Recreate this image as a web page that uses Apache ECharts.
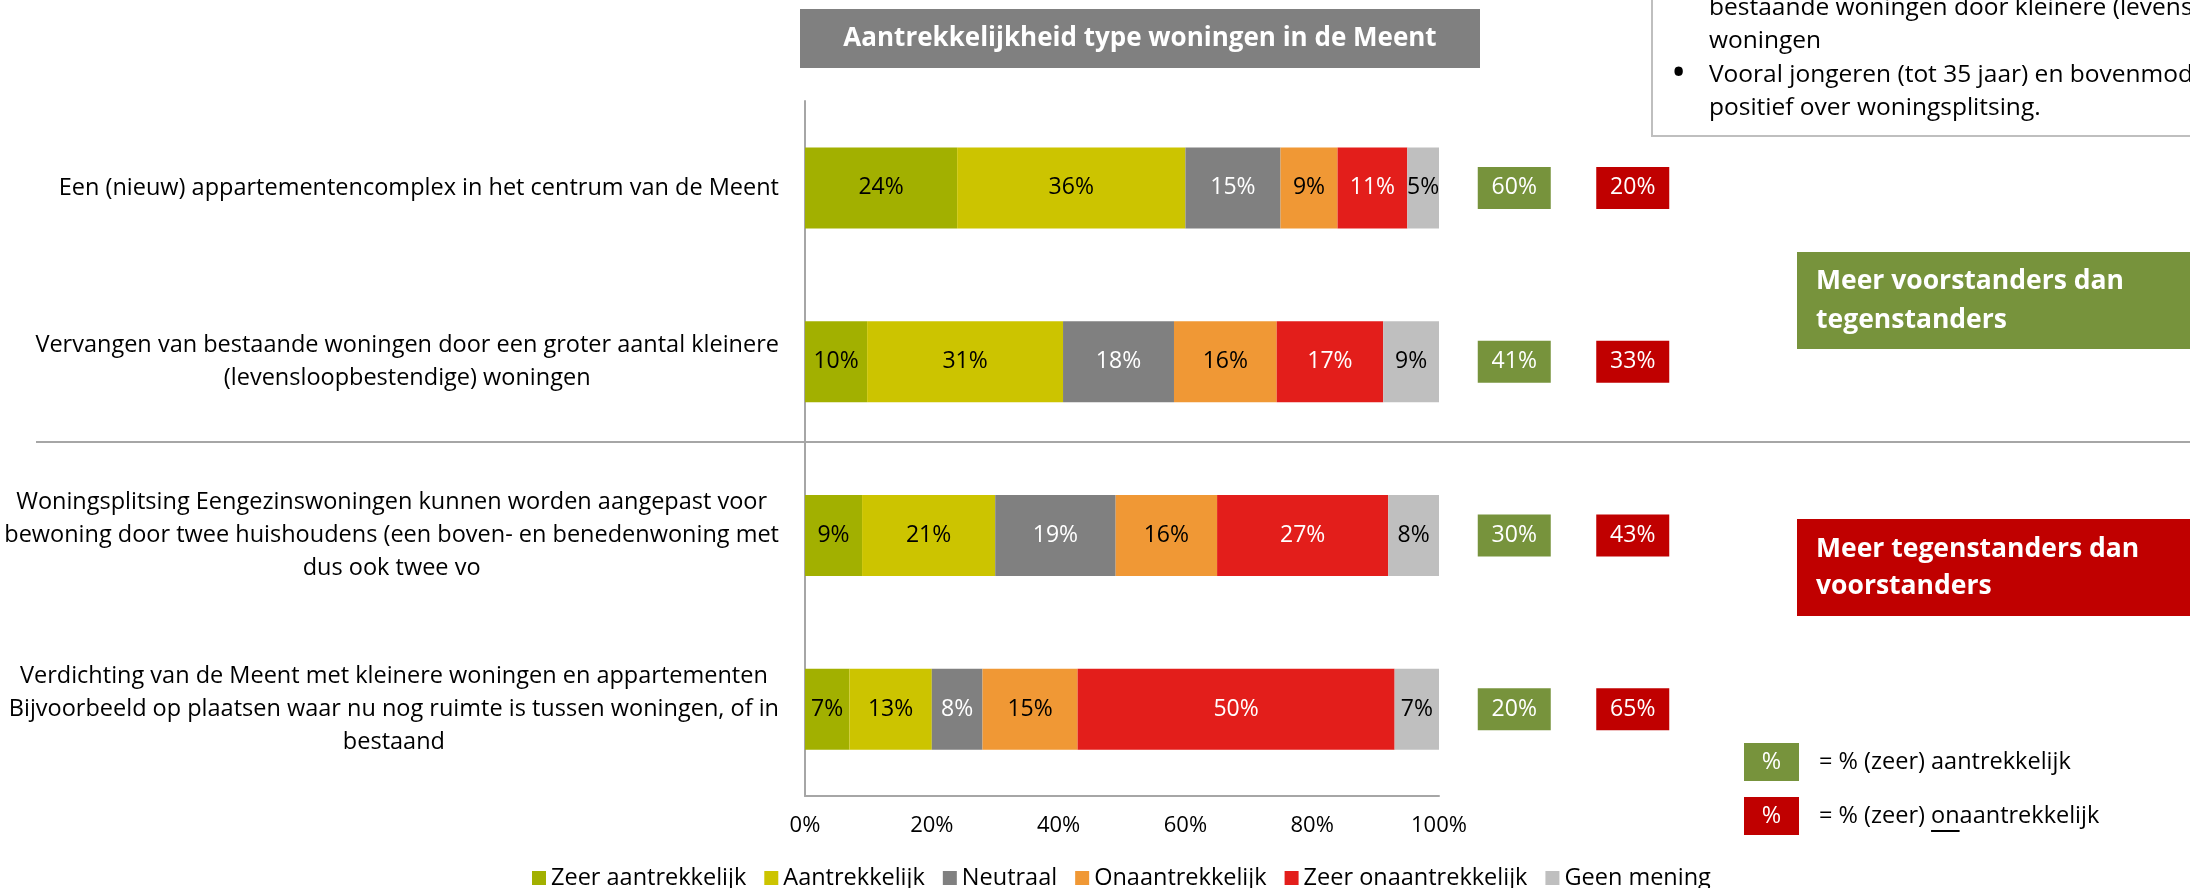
<!DOCTYPE html>
<html>
<head>
<meta charset="utf-8">
<script src="https://cdn.jsdelivr.net/npm/echarts@6/dist/echarts.min.js"></script>
<style>
  html, body { margin: 0; padding: 0; background: #fff; }
  #chart { width: 2190px; height: 888px; }
</style>
</head>
<body>
<div id="chart"></div>
<script>
const FONT = 'Open Sans'

// categories (line breaks as in the original chart)
const categories = [
  'Een (nieuw) appartementencomplex in het centrum van de Meent',
  'Vervangen van bestaande woningen door een groter aantal kleinere\n(levensloopbestendige) woningen',
  'Woningsplitsing Eengezinswoningen kunnen worden aangepast voor\nbewoning door twee huishoudens (een boven- en benedenwoning met\ndus ook twee vo',
  'Verdichting van de Meent met kleinere woningen en appartementen\nBijvoorbeeld op plaatsen waar nu nog ruimte is tussen woningen, of in\nbestaand'
]

const seriesNames = ['Zeer aantrekkelijk', 'Aantrekkelijk', 'Neutraal', 'Onaantrekkelijk', 'Zeer onaantrekkelijk', 'Geen mening']

// percentages per category
const zeerAantrekkelijk = [24, 9.8, 9, 7]
const aantrekkelijk = [36, 30.9, 21, 13]
const neutraal = [15, 17.5, 19, 8]
const onaantrekkelijk = [9, 16.2, 16, 15]
const zeerOnaantrekkelijk = [11, 16.8, 27, 50]
const geenMening = [5, 8.8, 8, 7]

// summary boxes: % (zeer) aantrekkelijk / % (zeer) onaantrekkelijk
const totaalAantrekkelijk = [60, 41, 30, 20]
const totaalOnaantrekkelijk = [20, 33, 43, 65]
const summaryCols = ['voor', 'tegen']

const COLORS = ['#A2B000', '#CCC400', '#808080', '#F09835', '#E31E1B', '#BFBFBF']
const LABEL_COLORS = ['#000', '#000', '#fff', '#000', '#fff', '#000']
const GREEN = '#77933C'
const RED = '#C00000'
const AXIS_GRAY = '#a6a6a6'

const seriesData = [zeerAantrekkelijk, aantrekkelijk, neutraal, onaantrekkelijk, zeerOnaantrekkelijk, geenMening]

// measure text for the underline under "on"
const KEY_FONT = `23.5px "${FONT}"`
const mctx = document.createElement('canvas').getContext('2d')
mctx.font = KEY_FONT
const preW = mctx.measureText('= % (zeer) ').width
const onW = mctx.measureText('on').width

const chart = echarts.init(document.getElementById('chart'))

const barSeries = seriesNames.map((name, i) => ({
  name,
  type: 'bar',
  stack: 'total',
  xAxisIndex: 0,
  yAxisIndex: 0,
  barWidth: 81,
  data: seriesData[i],
  itemStyle: { color: COLORS[i] },
  label: {
    show: true,
    position: 'inside',
    color: LABEL_COLORS[i],
    fontFamily: FONT,
    fontSize: 23,
    formatter: (p) => Math.round(p.value) + '%',
  },
}))

function summarySeries(values, col, color) {
  return {
    type: 'scatter',
    xAxisIndex: 1,
    yAxisIndex: 1,
    symbol: 'rect',
    symbolSize: [73, 42],
    itemStyle: { color, opacity: 1 },
    data: values.map((v, i) => [col, i, v]),
    label: {
      show: true,
      position: 'inside',
      color: '#fff',
      fontFamily: FONT,
      fontSize: 23,
      formatter: (p) => p.value[2] + '%',
    },
    silent: true,
  }
}

chart.setOption({
  backgroundColor: '#fff',
  animation: false,
  textStyle: { fontFamily: FONT },
  grid: [
    { left: 805, top: 101, width: 634, height: 695 },
    { left: 1455, top: 101, width: 237, height: 695 },
  ],
  xAxis: [
    {
      type: 'value',
      gridIndex: 0,
      min: 0,
      max: 100,
      interval: 20,
      axisLine: { show: true, lineStyle: { color: AXIS_GRAY, width: 2 } },
      axisTick: { show: false },
      splitLine: { show: false },
      axisLabel: { formatter: '{value}%', color: '#000', fontSize: 22, margin: 19 },
    },
    {
      type: 'category',
      gridIndex: 1,
      data: summaryCols,
      show: false,
    },
  ],
  yAxis: [
    {
      type: 'category',
      gridIndex: 0,
      inverse: true,
      data: categories,
      axisLine: { show: true, lineStyle: { color: AXIS_GRAY, width: 2 } },
      axisTick: { show: false },
      axisLabel: {
        margin: 26,
        formatter: (v) => v.split('\n').map((l) => '{c|' + l + '}').join('\n'),
        rich: {
          c: { align: 'center', fontSize: 23.5, lineHeight: 33, color: '#000', fontFamily: FONT },
        },
      },
    },
    {
      type: 'category',
      gridIndex: 1,
      inverse: true,
      data: categories,
      show: false,
    },
  ],
  legend: {
    data: seriesNames,
    left: 527,
    top: 861,
    icon: 'rect',
    itemWidth: 14,
    itemHeight: 14,
    itemGap: 18,
    textStyle: { fontSize: 23.5, color: '#000', fontFamily: FONT },
  },
  series: [
    ...barSeries,
    summarySeries(totaalAantrekkelijk, 'voor', GREEN),
    summarySeries(totaalOnaantrekkelijk, 'tegen', RED),
  ],
  graphic: [
    // title box
    {
      type: 'group',
      children: [
        { type: 'rect', shape: { x: 800, y: 9, width: 680, height: 59 }, style: { fill: '#808080' } },
        {
          type: 'text',
          style: {
            x: 1140, y: 39, text: 'Aantrekkelijkheid type woningen in de Meent',
            align: 'center', verticalAlign: 'middle',
            fill: '#fff', font: `bold 26px "${FONT}"`,
          },
        },
      ],
    },
    // annotation box top right (partly outside the picture)
    {
      type: 'group',
      children: [
        { type: 'rect', shape: { x: 1652, y: -30, width: 600, height: 166 }, style: { fill: '#fff', stroke: '#bfbfbf', lineWidth: 2 } },
        { type: 'text', style: { x: 1709, y: 8, text: 'bestaande woningen door kleinere (levensloopbestendige)', verticalAlign: 'middle', fill: '#000', font: `24.5px "${FONT}"` } },
        { type: 'text', style: { x: 1709, y: 41, text: 'woningen', verticalAlign: 'middle', fill: '#000', font: `24.5px "${FONT}"` } },
        { type: 'text', style: { x: 1673, y: 73, text: '•', verticalAlign: 'middle', fill: '#000', font: `bold 30px "${FONT}"` } },
        { type: 'text', style: { x: 1709, y: 75, text: 'Vooral jongeren (tot 35 jaar) en bovenmodale inkomens zijn', verticalAlign: 'middle', fill: '#000', font: `24.5px "${FONT}"` } },
        { type: 'text', style: { x: 1709, y: 108, text: 'positief over woningsplitsing.', verticalAlign: 'middle', fill: '#000', font: `24.5px "${FONT}"` } },
      ],
    },
    // separator between the two groups
    { type: 'line', shape: { x1: 36, y1: 442, x2: 2190, y2: 442 }, style: { stroke: AXIS_GRAY, lineWidth: 2 } },
    // right side statement boxes
    { type: 'rect', shape: { x: 1797, y: 252, width: 420, height: 97 }, style: { fill: GREEN } },
    { type: 'text', style: { x: 1816, y: 301, text: 'Meer voorstanders dan\ntegenstanders', verticalAlign: 'middle', lineHeight: 39, fill: '#fff', font: `bold 26.5px "${FONT}"` } },
    { type: 'rect', shape: { x: 1797, y: 519, width: 420, height: 97 }, style: { fill: RED } },
    { type: 'text', style: { x: 1816, y: 568, text: 'Meer tegenstanders dan\nvoorstanders', verticalAlign: 'middle', lineHeight: 37, fill: '#fff', font: `bold 26.5px "${FONT}"` } },
    // key for the summary boxes
    { type: 'rect', shape: { x: 1744, y: 743, width: 55, height: 38 }, style: { fill: GREEN } },
    { type: 'text', style: { x: 1771.5, y: 762, text: '%', align: 'center', verticalAlign: 'middle', fill: '#fff', font: KEY_FONT } },
    { type: 'text', style: { x: 1819, y: 762, text: '= % (zeer) aantrekkelijk', verticalAlign: 'middle', fill: '#000', font: KEY_FONT } },
    { type: 'rect', shape: { x: 1744, y: 797, width: 55, height: 38 }, style: { fill: RED } },
    { type: 'text', style: { x: 1771.5, y: 816, text: '%', align: 'center', verticalAlign: 'middle', fill: '#fff', font: KEY_FONT } },
    { type: 'text', style: { x: 1819, y: 816, text: '= % (zeer) onaantrekkelijk', verticalAlign: 'middle', fill: '#000', font: KEY_FONT } },
    { type: 'line', shape: { x1: 1819 + preW, y1: 831, x2: 1819 + preW + onW, y2: 831 }, style: { stroke: '#000', lineWidth: 2 } },
  ],
})
</script>
</body>
</html>
